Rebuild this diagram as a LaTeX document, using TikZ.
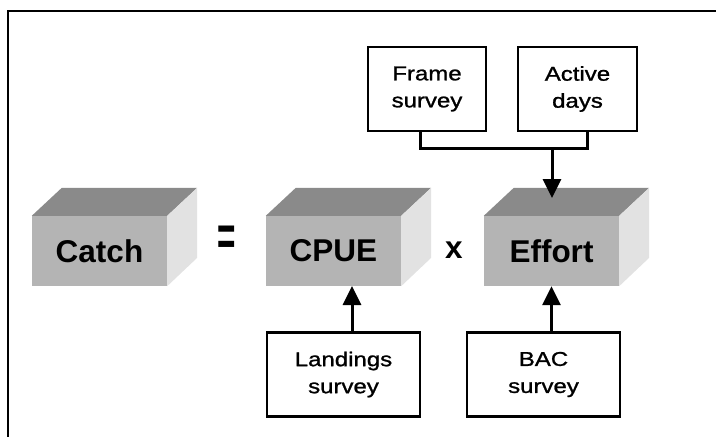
\documentclass[tikz,border=0pt]{standalone}
\usepackage{fontspec}
\setmainfont{Liberation Sans}
\newfontfamily\boxfont[FakeStretch=1.2,FakeBold=1.2]{Liberation Sans}
\usetikzlibrary{arrows.meta,positioning}

\definecolor{frontgray}{RGB}{180,180,180}
\definecolor{topgray}{RGB}{138,138,138}
\definecolor{sidegray}{RGB}{226,226,226}

\begin{document}
\begin{tikzpicture}[
    x=1pt, y=-1pt,
    >={Triangle[length=19pt,width=18pt]},
    block/.style={
        rectangle,
        fill=frontgray,
        minimum width=135pt,
        minimum height=70pt,
        inner sep=0pt,
        font=\fontsize{31.5}{36}\selectfont\bfseries
    },
    source/.style={
        rectangle,
        draw=black,
        line width=2.8pt,
        fill=white,
        minimum width=#1,
        minimum height=84pt,
        inner sep=0pt,
        align=center,
        font=\boxfont\fontsize{20}{27}\selectfont
    },
    op/.style={
        inner sep=0pt,
        font=\fontsize{31.5}{36}\selectfont\bfseries
    },
    link/.style={line width=3pt},
    feed/.style={line width=3pt,->}
]
\useasboundingbox (0,0) rectangle (716,437);

% Frame (top and left edges only)
\draw[line width=2pt] (8,437) -- (8,11) -- (716,11);

% Front faces of the blocks
\node[block] (catch)  at (99.5,251)  {Catch};
\node[block] (cpue)   at (333.5,251) {CPUE};
\node[block] (effort) at (551.5,251) {Effort};

% Top and side faces
\foreach \b in {catch,cpue,effort} {
    \fill[topgray] (\b.north west) -- ++(30,-28) -- ([shift={(30,-28)}]\b.north east) -- (\b.north east) -- cycle;
    \fill[sidegray] (\b.north east) -- ++(30,-28) -- ++(0,70) -- (\b.south east) -- cycle;
}

% Operators
\node[op] (eq)    at (227,241) {\scalebox{1}[1.8]{=}};
\node[op, anchor=base] (times) at (454,258) {x};

% Sources
\node[source=118pt] (frame)     at (427,89)    {Frame\\survey};
\node[source=119pt] (active)    at (577.5,89)  {Active\\days};
\node[source=153pt] (landings)  at (343.5,374.5) {Landings\\survey};
\node[source=153pt] (bac)       at (543.5,374.5) {BAC\\survey};

% Connector points
\coordinate (framefoot)  at (420,131);
\coordinate (activefoot) at (587,131);
\coordinate (join)       at (552,148);
\coordinate (efforttop)  at (552,198);
\coordinate (cpuefoot)   at (352,286);

% Arrows
\draw[link] (frame.south -| framefoot) |- (join) -| (active.south -| activefoot);
\draw[feed] (join) -- (efforttop);
\draw[feed] (landings.north -| cpuefoot) -- (cpuefoot);
\draw[feed] (bac.north -| effort.south) -- (effort.south);

\end{tikzpicture}
\end{document}
